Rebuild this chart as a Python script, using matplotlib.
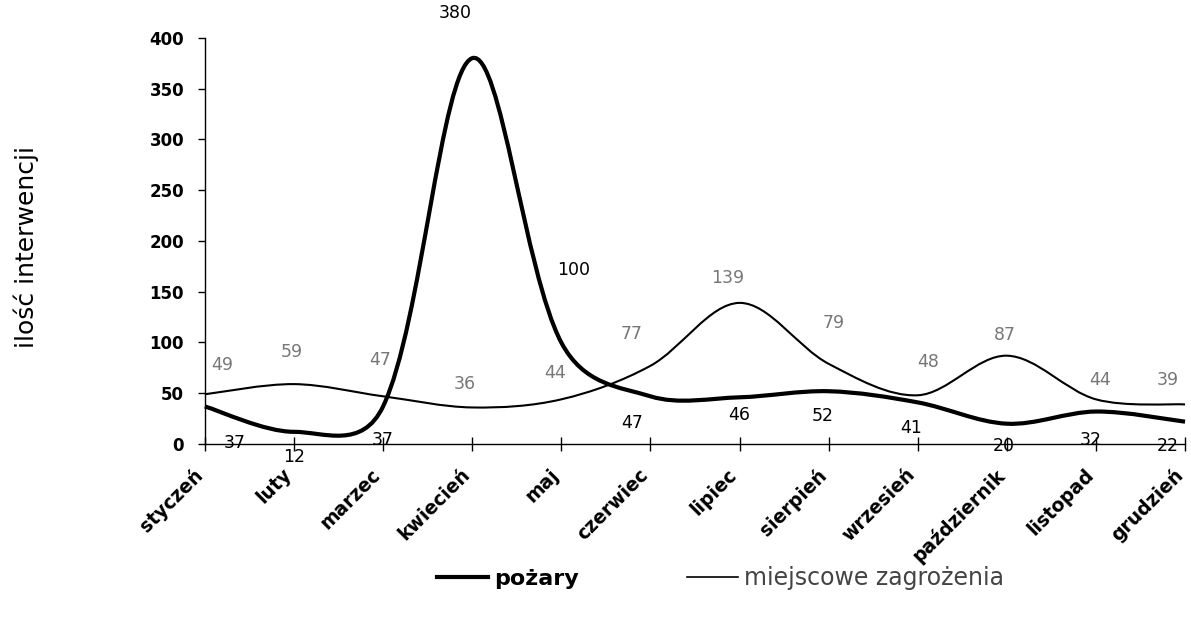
import numpy as np
import matplotlib.pyplot as plt
import matplotlib.transforms as mtransforms
from matplotlib.path import Path
from matplotlib.patches import PathPatch
from matplotlib.lines import Line2D

plt.rcParams['font.family'] = ['DejaVu Sans']

# dane
months = ['styczeń', 'luty', 'marzec', 'kwiecień', 'maj', 'czerwiec', 'lipiec',
          'sierpień', 'wrzesień', 'październik', 'listopad', 'grudzień']
pozary = [37, 12, 37, 380, 100, 47, 46, 52, 41, 20, 32, 22]
miejscowe = [49, 59, 47, 36, 44, 77, 139, 79, 48, 87, 44, 39]
y_ticks = [0, 50, 100, 150, 200, 250, 300, 350, 400]

# przesunięcia etykiet danych (piksele)
pozary_offsets = [(30, -37), (0, -25), (0, -34), (-17, 45), (12, 72), (-18, -27),
                  (0, -18), (-6, -25), (-7, -26), (-3, -22), (-5, -28), (-17, -24)]
miejscowe_offsets = [(17, 29), (-2, 32), (-3, 36), (-7, 23), (-6, 26), (-19, 32),
                     (-12, 25), (5, 41), (10, 33), (-2, 21), (4, 19), (-17, 24)]


def smooth_path(ax, xs, ys):
    # wygładzona linia jak w Excelu (Bezier liczony w pikselach)
    pts = ax.transData.transform(np.column_stack([xs, ys]).astype(float))
    n = len(pts)
    verts = [pts[0]]
    codes = [Path.MOVETO]
    for i in range(n - 1):
        p0 = pts[max(i - 1, 0)]
        p1 = pts[i]
        p2 = pts[i + 1]
        p3 = pts[min(i + 2, n - 1)]
        d0 = np.hypot(*(p1 - p0))
        d1 = np.hypot(*(p2 - p1))
        d2 = np.hypot(*(p3 - p2))
        w1 = 0.5 * (d1 / (d0 + d1) if d0 > 0 else 0.5) + 0.25
        w2 = 0.5 * (d1 / (d1 + d2) if d2 > 0 else 0.5) + 0.25
        c1 = p1 + (p2 - p0) * w1 / 3
        c2 = p2 - (p3 - p1) * w2 / 3
        verts += [c1, c2, p2]
        codes += [Path.CURVE4] * 3
    verts = ax.transData.inverted().transform(np.array(verts))
    return Path(verts, codes)


fig = plt.figure(figsize=(11.91, 6.21), dpi=100)
ax = fig.add_axes([0.172, 0.285, 0.823, 0.654])

x = np.arange(len(months))
ax.set_xlim(0, len(months) - 1)
ax.set_ylim(0, 400)

ax.add_patch(PathPatch(smooth_path(ax, x, miejscowe), fill=False, lw=1.5,
                       edgecolor='black', clip_on=False, capstyle='butt'))
ax.add_patch(PathPatch(smooth_path(ax, x, pozary), fill=False, lw=3,
                       edgecolor='black', clip_on=False, capstyle='butt'))

for xi, v, off in zip(x, pozary, pozary_offsets):
    ax.annotate(str(v), (xi, v), xytext=off, textcoords='offset pixels',
                ha='center', va='center', fontsize=12.5, color='black')
for xi, v, off in zip(x, miejscowe, miejscowe_offsets):
    ax.annotate(str(v), (xi, v), xytext=off, textcoords='offset pixels',
                ha='center', va='center', fontsize=12.5, color='#777777')

ax.set_yticks(y_ticks)
ax.set_yticklabels([str(t) for t in y_ticks], fontsize=12, fontweight='bold')
ax.set_xticks(x)
ax.tick_params(axis='x', labelbottom=False)

# etykiety miesięcy, obrócone o 45 stopni
shift = mtransforms.ScaledTranslation(-0.12, -0.21, fig.dpi_scale_trans)
for xi, m in zip(x, months):
    ax.text(xi, 0, m, transform=ax.get_xaxis_transform() + shift,
            rotation=45, ha='right', va='top', rotation_mode='anchor',
            fontsize=13.5, fontweight='bold')

for s in ['top', 'right']:
    ax.spines[s].set_visible(False)
ax.spines['left'].set_linewidth(1)
ax.spines['bottom'].set_linewidth(1)
ax.tick_params(axis='y', direction='out', length=5, width=1, pad=10)
ax.tick_params(axis='x', direction='inout', length=10, width=1)

fig.text(26 / 1191, 0.602, 'ilość interwencji', rotation=90,
         ha='center', va='center', fontsize=18)

handles = [Line2D([], [], color='black', lw=3),
           Line2D([], [], color='black', lw=1.2)]
leg = fig.legend(handles, ['pożary', 'miejscowe zagrożenia'], loc='center',
                 bbox_to_anchor=(0.605, 0.069), ncol=2, frameon=False,
                 fontsize=16, handlelength=2.3, columnspacing=4.9, handletextpad=0.25)
leg.get_texts()[0].set_fontweight('bold')
leg.get_texts()[1].set_fontsize(17)
leg.get_texts()[1].set_color('#444444')

fig.savefig('out.png', dpi=100)
